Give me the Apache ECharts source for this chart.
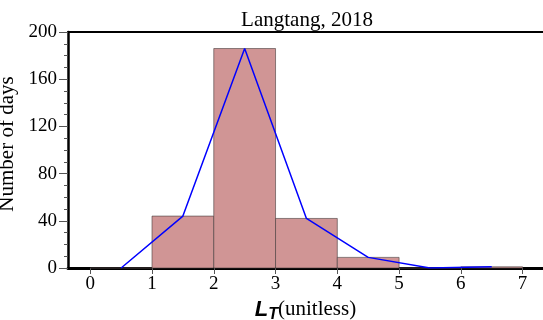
<!DOCTYPE html>
<html>
<head>
<meta charset="utf-8">
<script src="https://cdn.jsdelivr.net/npm/echarts@6/dist/echarts.min.js"></script>
<style>
  html, body { margin: 0; padding: 0; background: #fff; }
  #chart { width: 543px; height: 320px; }
</style>
</head>
<body>
<div id="chart"></div>
<script>
// Histogram of daily L_T values, Langtang 2018
const binEdges = [0, 1, 2, 3, 4, 5, 6, 7];
const dayCounts = [0, 44, 186, 42, 9, 0, 1];
const binCenters = [0.5, 1.5, 2.5, 3.5, 4.5, 5.5, 6.5];
const xTickValues = [0, 1, 2, 3, 4, 5, 6, 7];
const titleText = 'Langtang, 2018';
const yAxisTitle = 'Number of days';

const serif = '"Liberation Serif", "Times New Roman", serif';
const sans = '"Liberation Sans", Arial, sans-serif';

const barData = dayCounts.map((c, i) => [binEdges[i], binEdges[i + 1], c]);
const lineData = binCenters.map((x, i) => [x, dayCounts[i]]);

const chart = echarts.init(document.getElementById('chart'), null, { renderer: 'canvas' });

chart.setOption({
  animation: false,
  backgroundColor: '#ffffff',
  title: {
    text: titleText,
    left: 302,
    top: 5,
    textAlign: 'center',
    textStyle: { fontFamily: serif, fontSize: 21, fontWeight: 'normal', color: '#000' }
  },
  grid: { left: 68, right: 0, top: 32, bottom: 52, containLabel: false, outerBoundsMode: 'none' },
  xAxis: [
    {
      type: 'value',
      min: -0.36,
      max: 7.33,
      position: 'bottom',
      axisLine: { show: true, onZero: false, lineStyle: { color: '#000', width: 3 } },
      axisTick: { show: true, length: 6, customValues: xTickValues, lineStyle: { color: '#555', width: 1 } },
      axisLabel: {
        customValues: xTickValues,
        margin: 7,
        fontFamily: serif, fontSize: 19, color: '#000'
      },
      splitLine: { show: false },
      name: '{b|L}{s|T}{n|(unitless)}',
      nameLocation: 'middle',
      nameGap: 28,
      nameTextStyle: {
        rich: {
          b: { fontFamily: sans, fontWeight: 'bold', fontStyle: 'italic', fontSize: 22, color: '#000' },
          s: { fontFamily: sans, fontWeight: 'bold', fontStyle: 'italic', fontSize: 16, color: '#000', verticalAlign: 'bottom', padding: [10, 0, 0, 0] },
          n: { fontFamily: serif, fontSize: 21, color: '#000' }
        }
      }
    },
    {
      type: 'value',
      min: -0.36,
      max: 7.33,
      position: 'top',
      axisLine: { show: true, onZero: false, lineStyle: { color: '#000', width: 2 } },
      axisTick: { show: false },
      axisLabel: { show: false },
      splitLine: { show: false }
    }
  ],
  yAxis: {
    type: 'value',
    min: 0,
    max: 200,
    interval: 40,
    axisLine: { show: true, onZero: false, lineStyle: { color: '#000', width: 2.5 } },
    axisTick: { show: true, length: 9, lineStyle: { color: '#555', width: 1 } },
    minorTick: { show: true, splitNumber: 4, length: 4, lineStyle: { color: '#555', width: 1 } },
    axisLabel: { margin: 11, fontFamily: serif, fontSize: 19, color: '#000' },
    splitLine: { show: false },
    name: yAxisTitle,
    nameLocation: 'middle',
    nameRotate: 90,
    nameGap: 44,
    nameTextStyle: { fontFamily: serif, fontSize: 21, color: '#000', padding: [0, 0, 0, 12] }
  },
  series: [
    {
      type: 'custom',
      xAxisIndex: 0,
      data: barData,
      z: 2,
      renderItem: function (params, api) {
        const p0 = api.coord([api.value(0), api.value(2)]);
        const p1 = api.coord([api.value(1), 0]);
        return {
          type: 'rect',
          shape: { x: p0[0], y: p0[1], width: p1[0] - p0[0], height: p1[1] - p0[1] },
          style: { fill: '#d09595', stroke: 'rgba(70,60,60,0.6)', lineWidth: 1 }
        };
      }
    },
    {
      type: 'line',
      xAxisIndex: 0,
      data: lineData,
      z: 3,
      symbol: 'none',
      lineStyle: { color: '#0000ff', width: 1.5 }
    }
  ]
});
</script>
</body>
</html>
